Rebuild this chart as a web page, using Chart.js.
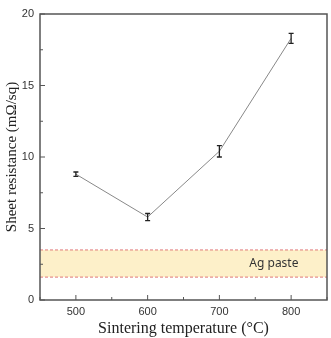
<!DOCTYPE html>
<html>
<head>
<meta charset="utf-8">
<script src="https://cdn.jsdelivr.net/npm/chart.js@4/dist/chart.umd.min.js"></script>
<style>
  html, body { margin: 0; padding: 0; background: #fff; }
  #wrap { width: 331px; height: 338px; }
</style>
</head>
<body>
<div id="wrap"><canvas id="chart"></canvas></div>
<script>
// Data

const temperatures = [500, 600, 700, 800];
const sheetResistance = [8.8, 5.8, 10.4, 18.3];
const resistanceError = [0.15, 0.25, 0.4, 0.35];

const agPasteLow = [1.6, 1.6];
const agPasteHigh = [3.5, 3.5];
const bandRange = [450, 850];

const xTicks = [500, 600, 700, 800];
const xMinorTicks = [450, 550, 650, 750, 850];
const yTicks = [0, 5, 10, 15, 20];
const yMinorTicks = [2.5, 7.5, 12.5, 17.5];

// Plugins

const framePlugin = {
    id: "frame",
    afterDraw(chart) {
        const ctx = chart.ctx,
            area = chart.chartArea,
            x = chart.scales.x,
            y = chart.scales.y;

        ctx.save();
        ctx.strokeStyle = "#555";
        ctx.lineWidth = 1.5;
        ctx.beginPath();
        ctx.moveTo(area.left, area.top);
        ctx.lineTo(area.right, area.top);
        ctx.lineTo(area.right, area.bottom);
        ctx.lineTo(area.left, area.bottom);
        ctx.closePath();
        ctx.stroke();

        // inward ticks
        ctx.lineWidth = 1;
        ctx.beginPath();
        xTicks.forEach(v => {
            let px = x.getPixelForValue(v);
            ctx.moveTo(px, area.bottom);
            ctx.lineTo(px, area.bottom - 5);
        });
        xMinorTicks.forEach(v => {
            let px = x.getPixelForValue(v);
            ctx.moveTo(px, area.bottom);
            ctx.lineTo(px, area.bottom - 3);
        });
        yTicks.forEach(v => {
            let py = y.getPixelForValue(v);
            ctx.moveTo(area.left, py);
            ctx.lineTo(area.left + 5, py);
        });
        yMinorTicks.forEach(v => {
            let py = y.getPixelForValue(v);
            ctx.moveTo(area.left, py);
            ctx.lineTo(area.left + 3, py);
        });
        ctx.stroke();
        ctx.restore();
    }
};

const errorBarPlugin = {
    id: "errorBars",
    afterDatasetsDraw(chart) {
        const ctx = chart.ctx,
            x = chart.scales.x,
            y = chart.scales.y;

        ctx.save();
        ctx.strokeStyle = "#222";
        ctx.lineWidth = 1.3;
        temperatures.forEach((t, i) => {
            let px = x.getPixelForValue(t),
                top = y.getPixelForValue(sheetResistance[i] + resistanceError[i]),
                bottom = y.getPixelForValue(sheetResistance[i] - resistanceError[i]);
            ctx.beginPath();
            ctx.moveTo(px, top);
            ctx.lineTo(px, bottom);
            ctx.moveTo(px - 2.5, top);
            ctx.lineTo(px + 2.5, top);
            ctx.moveTo(px - 2.5, bottom);
            ctx.lineTo(px + 2.5, bottom);
            ctx.stroke();
        });

        // Ag paste label
        ctx.fillStyle = "#333";
        ctx.font = "12px 'Noto Sans'";
        ctx.textAlign = "center";
        ctx.textBaseline = "middle";
        ctx.fillText("Ag paste", x.getPixelForValue(776), y.getPixelForValue((agPasteLow[0] + agPasteHigh[0]) / 2));
        ctx.restore();
    }
};

// Chart

const ctx = document.getElementById("chart");

new Chart(ctx, {
    type: "scatter",
    data: {
        datasets: [
            {
                label: "low",
                data: bandRange.map((v, i) => ({ x: v, y: agPasteLow[i] })),
                showLine: true,
                borderColor: "#E07878",
                borderWidth: 1,
                borderDash: [3, 2],
                pointRadius: 0,
                fill: false,
            },
            {
                label: "high",
                data: bandRange.map((v, i) => ({ x: v, y: agPasteHigh[i] })),
                showLine: true,
                borderColor: "#E07878",
                borderWidth: 1,
                borderDash: [3, 2],
                pointRadius: 0,
                backgroundColor: "#FDF0C9",
                fill: "-1",
            },
            {
                label: "Sheet resistance",
                data: temperatures.map((t, i) => ({ x: t, y: sheetResistance[i] })),
                showLine: true,
                borderColor: "#888",
                borderWidth: 1,
                pointRadius: 0,
            },
        ],
    },
    options: {
        responsive: true,
        maintainAspectRatio: false,
        animation: false,
        layout: { padding: { top: 14, right: 4, left: 0, bottom: 0 } },
        plugins: {
            legend: { display: false },
            tooltip: { enabled: false },
        },
        scales: {
            x: {
                type: "linear",
                min: 450,
                max: 850,
                afterBuildTicks: scale => { scale.ticks = xTicks.map(v => ({ value: v })); },
                afterFit: scale => { scale.height = 38; },
                grid: { display: false, drawTicks: false },
                border: { display: false },
                ticks: {
                    color: "#333",
                    font: { family: "'Liberation Sans'", size: 11 },
                    padding: 5,
                },
                title: {
                    display: true,
                    text: "Sintering temperature (°C)",
                    color: "#222",
                    font: { family: "'Liberation Serif'", size: 16 },
                    padding: { top: 0, bottom: 0 },
                },
            },
            y: {
                min: 0,
                max: 20,
                afterBuildTicks: scale => { scale.ticks = yTicks.map(v => ({ value: v })); },
                afterFit: scale => { scale.width = 40; },
                grid: { display: false, drawTicks: false },
                border: { display: false },
                ticks: {
                    color: "#333",
                    font: { family: "'Liberation Sans'", size: 11 },
                    padding: 6,
                },
                title: {
                    display: true,
                    text: "Sheet resistance (mΩ/sq)",
                    color: "#222",
                    font: { family: "'Liberation Serif'", size: 15 },
                    padding: { top: 3, bottom: 0 },
                },
            },
        },
    },
    plugins: [framePlugin, errorBarPlugin],
});
</script>
</body>
</html>
